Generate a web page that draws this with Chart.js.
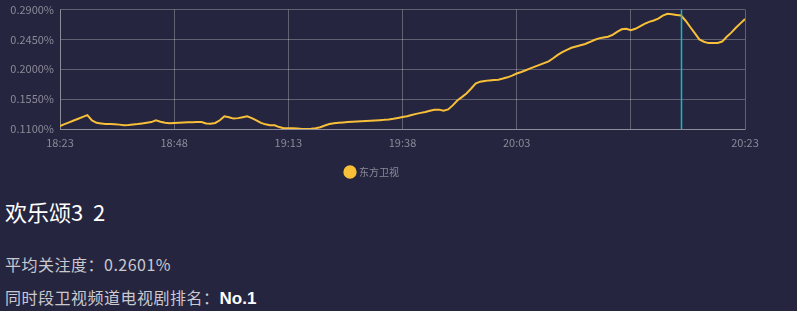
<!DOCTYPE html>
<html>
<head>
<meta charset="utf-8">
<script src="https://cdn.jsdelivr.net/npm/chart.js@4.4.1/dist/chart.umd.min.js"></script>
<style>
  body { margin: 0; background: #26253f; width: 797px; height: 311px; overflow: hidden;
         font-family: "Noto Sans CJK SC", "Noto Sans", sans-serif; }
  #wrap { position: absolute; left: 0; top: -3px; }
  .title { position: absolute; left: 5px; top: 195px; font-size: 22px; color: #ffffff; }
  .info { position: absolute; left: 5px; font-size: 16px; color: #c9c9cf; letter-spacing: 0.5px; }
  .info b { color: #ffffff; font-family: "Liberation Sans", Arial, sans-serif; font-size: 17px; letter-spacing: 0; }
</style>
</head>
<body>
<div id="wrap"><canvas id="chart" width="766" height="190"></canvas></div>
<div class="title">欢乐颂3&nbsp;&nbsp;2</div>
<div class="info" style="top:252px">平均关注度：0.2601%</div>
<div class="info" style="top:285px">同时段卫视频道电视剧排名：<b>No.1</b></div>
<script>
// tick labels shown under the grid lines (every 25 points)
var timeLabels = ['18:23', '18:48', '19:13', '19:38', '20:03', '', '20:23'];
var yTicks = [0.11, 0.155, 0.2, 0.245, 0.29];
var seriesName = '东方卫视';
// attention % per point
var attention = [
  0.1145, 0.1173, 0.1200, 0.1228, 0.1255, 0.1283, 0.1310, 0.1230, 0.1194, 0.1184,
  0.1175, 0.1174, 0.1172, 0.1166, 0.1158, 0.1160, 0.1168, 0.1175, 0.1184, 0.1194,
  0.1204, 0.1230, 0.1210, 0.1193, 0.1187, 0.1191, 0.1195, 0.1199, 0.1201, 0.1202,
  0.1204, 0.1205, 0.1184, 0.1181, 0.1191, 0.1231, 0.1292, 0.1278, 0.1257, 0.1264,
  0.1278, 0.1292, 0.1264, 0.1230, 0.1193, 0.1170, 0.1158, 0.1156, 0.1129, 0.1111,
  0.1111, 0.1111, 0.1107, 0.1100, 0.1100, 0.1105, 0.1112, 0.1127, 0.1152, 0.1174,
  0.1187, 0.1194, 0.1199, 0.1205, 0.1209, 0.1213, 0.1217, 0.1221, 0.1225, 0.1229,
  0.1233, 0.1238, 0.1245, 0.1254, 0.1267, 0.1280, 0.1292, 0.1311, 0.1328, 0.1343,
  0.1357, 0.1374, 0.1391, 0.1392, 0.1375, 0.1395, 0.1456, 0.1530, 0.1581, 0.1635,
  0.1707, 0.1783, 0.1813, 0.1824, 0.1833, 0.1838, 0.1843, 0.1860, 0.1879, 0.1905,
  0.1937, 0.1960, 0.1986, 0.2013, 0.2040, 0.2066, 0.2093, 0.2120, 0.2166, 0.2218,
  0.2259, 0.2293, 0.2325, 0.2344, 0.2363, 0.2382, 0.2411, 0.2442, 0.2466, 0.2479,
  0.2491, 0.2520, 0.2565, 0.2603, 0.2612, 0.2590, 0.2611, 0.2648, 0.2686, 0.2715,
  0.2736, 0.2765, 0.2809, 0.2838, 0.2829, 0.2820, 0.2811, 0.2732, 0.2638, 0.2544,
  0.2450, 0.2416, 0.2395, 0.2396, 0.2397, 0.2418, 0.2490, 0.2553, 0.2626, 0.2692,
  0.2758
];
var markerIndex = 136;

var points = [];
attention.forEach(function (v, i) { points.push({ x: i, y: v }); });

var gridColor = 'rgba(255,255,255,0.28)';
var tickColor = '#8a8a98';

// vertical cyan marker
var markerLine = {
  id: 'markerLine',
  afterDatasetsDraw: function (chart) {
    var ctx = chart.ctx;
    var x = Math.round(chart.scales.x.getPixelForValue(markerIndex)) + 0.5;
    ctx.save();
    ctx.strokeStyle = '#12b8cc';
    ctx.lineWidth = 1.5;
    ctx.beginPath();
    ctx.moveTo(x, chart.chartArea.top);
    ctx.lineTo(x, chart.chartArea.bottom);
    ctx.stroke();
    ctx.restore();
  }
};

new Chart(document.getElementById('chart'), {
  type: 'line',
  data: {
    datasets: [{
      label: seriesName,
      data: points,
      borderColor: '#f8bf38',
      backgroundColor: '#f8bf38',
      borderWidth: 2,
      pointRadius: 0,
      tension: 0
    }]
  },
  options: {
    responsive: false,
    animation: false,
    layout: { padding: { left: 0, right: 21, top: 7, bottom: 0 } },
    plugins: {
      tooltip: { enabled: false },
      legend: {
        position: 'bottom',
        labels: {
          usePointStyle: true,
          pointStyle: 'circle',
          boxWidth: 8,
          boxHeight: 8,
          padding: 10,
          color: tickColor,
          font: { size: 10, family: '"Noto Sans CJK SC", sans-serif' }
        }
      }
    },
    scales: {
      x: {
        type: 'linear',
        min: 0,
        max: attention.length - 1,
        afterFit: function (scale) { scale.height = 28; },
        afterBuildTicks: function (scale) {
          scale.ticks = timeLabels.map(function (t, i) { return { value: i * 25 }; });
        },
        ticks: {
          color: tickColor,
          padding: 7,
          maxRotation: 0,
          autoSkip: false,
          font: { size: 11, family: '"Noto Sans CJK SC", sans-serif' },
          callback: function (v, i) { return timeLabels[i]; }
        },
        grid: { color: gridColor, lineWidth: 1, drawTicks: false },
        border: { color: gridColor }
      },
      y: {
        min: yTicks[0],
        max: yTicks[yTicks.length - 1],
        afterFit: function (scale) { scale.width = 60; },
        afterBuildTicks: function (scale) {
          scale.ticks = yTicks.map(function (v) { return { value: v }; });
        },
        ticks: {
          color: tickColor,
          padding: 6,
          font: { size: 11, family: '"Noto Sans CJK SC", sans-serif' },
          callback: function (v) { return v.toFixed(4) + '%'; }
        },
        grid: { color: gridColor, lineWidth: 1, drawTicks: false },
        border: { color: gridColor }
      }
    }
  },
  plugins: [markerLine]
});
</script>
</body>
</html>
